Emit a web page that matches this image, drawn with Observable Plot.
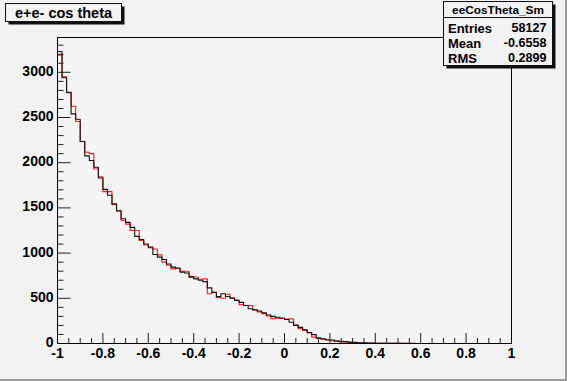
<!DOCTYPE html>
<html>
<head>
<meta charset="utf-8">
<script src="https://cdn.jsdelivr.net/npm/d3@7"></script>
<script src="https://cdn.jsdelivr.net/npm/@observablehq/plot@0.6"></script>
<style>
html, body { margin: 0; padding: 0; background: #f2f2f2; }
#chart { position: relative; width: 567px; height: 381px; overflow: hidden; }
</style>
</head>
<body>
<div id="chart"></div>
<script>
// ---- data (100 bins from -1 to 1) ----
const binLow = -1;
const binHigh = 1;
const nBins = 100;

const blackCounts = [
  3230, 2940, 2780, 2540, 2480, 2235, 2075, 2025, 1950, 1830,
  1705, 1640, 1545, 1465, 1380, 1340, 1285, 1185, 1150, 1100,
  1060, 985, 955, 930, 880, 845, 835, 790, 780, 740,
  715, 700, 685, 615, 565, 520, 550, 520, 500, 475,
  455, 420, 385, 370, 360, 340, 315, 300, 290, 280,
  265, 235, 200, 178, 152, 122, 98, 62, 52, 42,
  38, 26, 24, 22, 15, 12, 9, 7, 6, 4,
  3, 3, 2, 2, 1, 1, 1, 0, 1, 0,
  0, 0, 0, 0, 0, 0, 0, 0, 0, 0,
  0, 0, 0, 0, 0, 0, 0, 0, 0, 0
];

const redCounts = [
  3190, 2950, 2775, 2625, 2455, 2235, 2115, 2100, 1930, 1845,
  1680, 1680, 1535, 1470, 1360, 1320, 1250, 1250, 1140, 1090,
  1070, 1045, 980, 900, 865, 825, 830, 800, 800, 730,
  735, 710, 715, 550, 570, 510, 500, 545, 505, 480,
  430, 420, 420, 375, 350, 330, 305, 275, 280, 280,
  270, 272, 205, 165, 145, 118, 70, 55, 48, 38,
  30, 27, 18, 15, 11, 9, 7, 5, 4, 3,
  2, 2, 2, 1, 1, 1, 0, 1, 0, 0,
  0, 0, 0, 0, 0, 0, 0, 0, 0, 0,
  0, 0, 0, 0, 0, 0, 0, 0, 0, 0
];

const yMax = 3385;
const xMajorTicks = [-1, -0.8, -0.6, -0.4, -0.2, 0, 0.2, 0.4, 0.6, 0.8, 1];
const xTickLabels = ["-1", "-0.8", "-0.6", "-0.4", "-0.2", "0", "0.2", "0.4", "0.6", "0.8", "1"];
const yMajorTicks = [0, 500, 1000, 1500, 2000, 2500, 3000];
const yTickLabels = ["0", "500", "1000", "1500", "2000", "2500", "3000"];

const titleText = "e+e- cos theta";
const statsName = "eeCosTheta_Sm";
const statsLabels = ["Entries", "Mean", "RMS"];
const statsValues = ["58127", "-0.6558", "0.2899"];

// ---- layout ----
const W = 567, H = 381;
const mL = 57, mR = 56, mT = 37, mB = 38;
const plotW = W - mL - mR, plotH = H - mT - mB;
const pxPerX = plotW / (binHigh - binLow);
const pxPerY = plotH / yMax;

const binWidth = (binHigh - binLow) / nBins;
function stepPoints(counts) {
  const pts = counts.map((c, i) => ({x: binLow + i * binWidth, y: c}));
  pts.push({x: binHigh, y: counts[counts.length - 1]});
  return pts;
}
const blackPts = stepPoints(blackCounts);
const redPts = stepPoints(redCounts);

const xMinorTicks = d3.range(0, 41).map(i => -1 + i * 0.05).filter(v => Math.abs(Math.round(v * 5) - v * 5) > 1e-6);
const yMinorTicks = d3.range(1, 34).map(i => i * 100).filter(v => v % 500 !== 0);

const labelX = new Map(xMajorTicks.map((t, i) => [t, xTickLabels[i]]));
const labelY = new Map(yMajorTicks.map((t, i) => [t, yTickLabels[i]]));

const font = "'Liberation Sans', Arial, Helvetica, sans-serif";

const chart = Plot.plot({
  width: W,
  height: H,
  marginLeft: mL, marginRight: mR, marginTop: mT, marginBottom: mB,
  style: {
    background: "#f2f2f2",
    fontFamily: font,
    fontSize: "14px",
    fontWeight: "bold",
    color: "black",
    overflow: "visible"
  },
  x: {domain: [binLow, binHigh]},
  y: {domain: [0, yMax]},
  marks: [
    Plot.frame({fill: "#f4f4f4", stroke: "none"}),
    Plot.line(redPts, {x: "x", y: "y", curve: "step-after", stroke: "#ff1a1a", strokeWidth: 1.1}),
    Plot.line(blackPts, {x: "x", y: "y", curve: "step-after", stroke: "#111", strokeWidth: 1.1}),
    // x ticks (inward)
    Plot.ruleX(xMajorTicks, {x: d => d, y1: 0, y2: 10 / pxPerY, stroke: "#222", strokeWidth: 1}),
    Plot.ruleX(xMinorTicks, {x: d => d, y1: 0, y2: 5 / pxPerY, stroke: "#222", strokeWidth: 1}),
    // y ticks (inward)
    Plot.ruleY(yMajorTicks, {y: d => d, x1: binLow, x2: binLow + 13.5 / pxPerX, stroke: "#222", strokeWidth: 1}),
    Plot.ruleY(yMinorTicks, {y: d => d, x1: binLow, x2: binLow + 6.5 / pxPerX, stroke: "#222", strokeWidth: 1}),
    Plot.frame({stroke: "black", strokeWidth: 1}),
    Plot.axisX({ticks: xMajorTicks, tickSize: 0, tickPadding: 5, fontSize: 14, tickFormat: d => labelX.get(d), label: null}),
    Plot.axisY({ticks: yMajorTicks, tickSize: 0, tickPadding: 4, fontSize: 14, dy: -1, tickFormat: d => labelY.get(d), label: null})
  ]
});

document.getElementById("chart").appendChild(chart);

// ---- overlays: title box, stats box, canvas border ----
const svg = d3.select(chart);

function addText(x, y, txt, size, anchor) {
  svg.append("text").attr("x", x).attr("y", y).attr("dy", "0.35em")
    .attr("text-anchor", anchor)
    .style("text-anchor", anchor)
    .attr("font-family", font).attr("font-weight", "bold")
    .attr("font-size", size).attr("fill", "black").text(txt);
}

// title box
const tb = {x: 5.5, y: 3.5, w: 116, h: 18};
svg.append("rect").attr("x", tb.x + 3).attr("y", tb.y + 3).attr("width", tb.w).attr("height", tb.h).attr("fill", "#111");
svg.append("rect").attr("x", tb.x).attr("y", tb.y).attr("width", tb.w).attr("height", tb.h).attr("fill", "#f2f2f2").attr("stroke", "#111").attr("stroke-width", 1);
addText(tb.x + tb.w / 2, tb.y + tb.h / 2 + 0.5, titleText, "14.5px", "middle");

// stats box
const sb = {x: 443.5, y: 1.5, w: 109, h: 64};
svg.append("rect").attr("x", sb.x + 3).attr("y", sb.y + 3).attr("width", sb.w).attr("height", sb.h).attr("fill", "#111");
svg.append("rect").attr("x", sb.x).attr("y", sb.y).attr("width", sb.w).attr("height", sb.h).attr("fill", "#f2f2f2").attr("stroke", "#111").attr("stroke-width", 1);
svg.append("line").attr("x1", sb.x).attr("x2", sb.x + sb.w).attr("y1", 17.5).attr("y2", 17.5).attr("stroke", "#111");
addText(sb.x + sb.w / 2, 10, statsName, "11.8px", "middle");
const rowY = [28, 43, 58];
statsLabels.forEach((lab, i) => {
  addText(sb.x + 4.5, rowY[i], lab, "13px", "start");
  addText(sb.x + sb.w - 6, rowY[i], statsValues[i], "12.6px", "end");
});

// canvas bevel border (right / bottom)
svg.append("line").attr("x1", W - 1).attr("x2", W - 1).attr("y1", 0).attr("y2", H).attr("stroke", "#9a9a9a").attr("stroke-width", 2);
svg.append("line").attr("x1", 0).attr("x2", W).attr("y1", H - 1).attr("y2", H - 1).attr("stroke", "#9a9a9a").attr("stroke-width", 2);
</script>
</body>
</html>
